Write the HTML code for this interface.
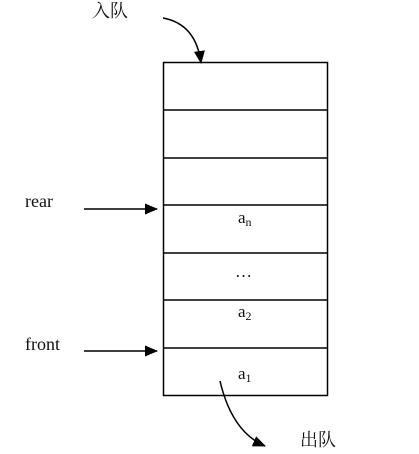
<!DOCTYPE html>
<html><head><meta charset="utf-8"><style>
html,body{margin:0;padding:0;background:#fff;width:419px;height:454px;overflow:hidden}
text{font-family:"Liberation Serif","Noto Serif CJK SC",serif;fill:#111}
</style></head><body>
<svg width="419" height="454" viewBox="0 0 419 454" xmlns="http://www.w3.org/2000/svg">
<defs><marker id="ah" markerWidth="13" markerHeight="11" refX="12" refY="5.5" orient="auto" markerUnits="userSpaceOnUse"><path d="M0,0 L13,5.5 L0,11 z" fill="#000"/></marker></defs>
<g stroke="#000" stroke-width="1.5" fill="none">
<rect x="163.5" y="62.5" width="164" height="333"/>
<line x1="163" y1="110" x2="328" y2="110"/>
<line x1="163" y1="158" x2="328" y2="158"/>
<line x1="163" y1="205" x2="328" y2="205"/>
<line x1="163" y1="253" x2="328" y2="253"/>
<line x1="163" y1="300" x2="328" y2="300"/>
<line x1="163" y1="348" x2="328" y2="348"/>
<line x1="84" y1="209" x2="157" y2="209" marker-end="url(#ah)"/>
<line x1="84" y1="351" x2="157" y2="351" marker-end="url(#ah)"/>
<path d="M163,18 Q196,24 201,63" marker-end="url(#ah)"/>
<path d="M220,381 Q232,432 265,446" marker-end="url(#ah)"/>
</g>
<text x="92" y="17" font-size="18">入队</text>
<text x="25" y="207" font-size="18">rear</text>
<text x="25" y="350" font-size="18">front</text>
<text x="300" y="446" font-size="18">出队</text>
<text x="238" y="223" font-size="17">a<tspan font-size="12" dy="3">n</tspan></text>
<text x="235" y="277" font-size="17">…</text>
<text x="238" y="317" font-size="17">a<tspan font-size="12" dy="3">2</tspan></text>
<text x="238" y="379" font-size="17">a<tspan font-size="12" dy="3">1</tspan></text>
</svg>
</body></html>
